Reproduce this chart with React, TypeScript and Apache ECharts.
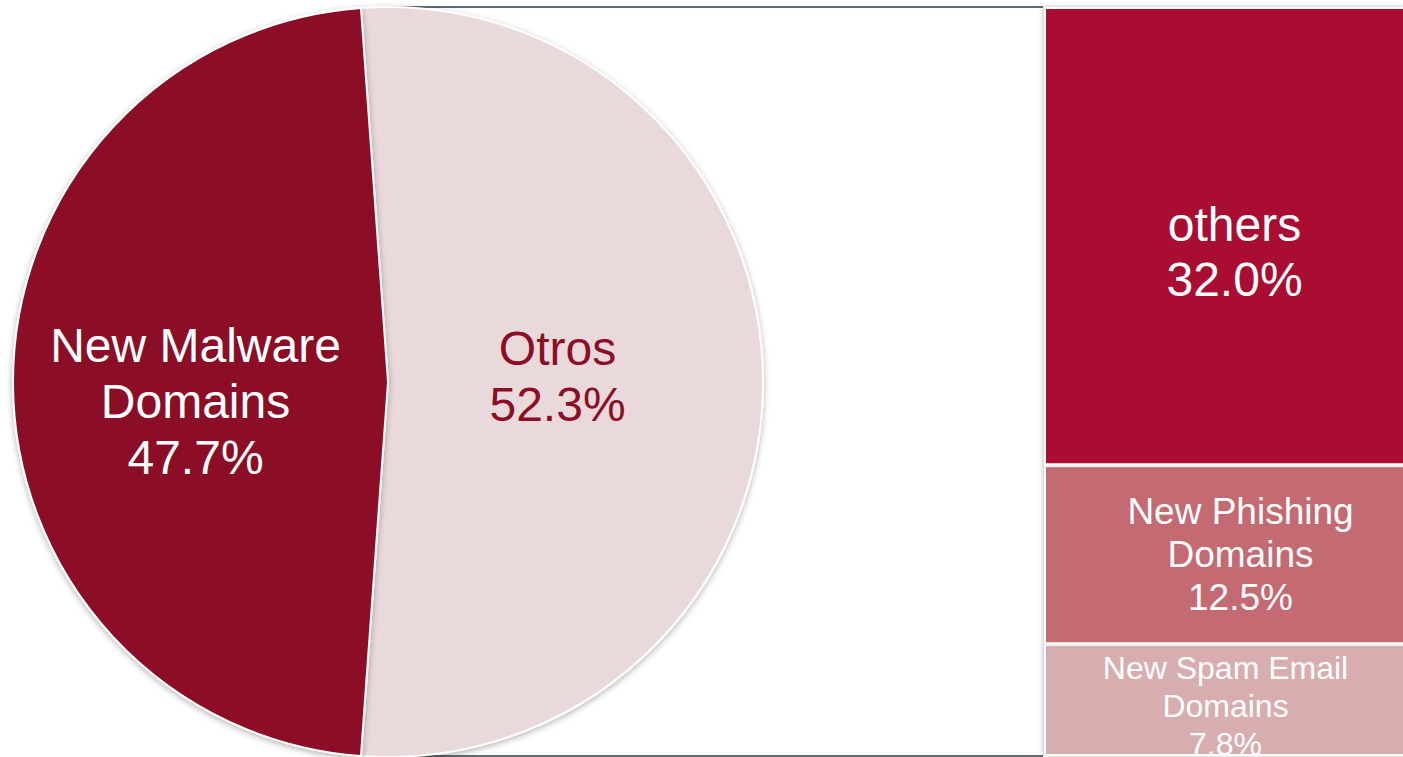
import React, { useEffect, useRef } from "react";
import * as echarts from "echarts";

// Pie data (main pie)
const pieNames = ["Otros", "New Malware\nDomains"];
const pieValues = [52.3, 47.7];
const pieColors = ["#EAD9DA", "#8B0E26"];
const pieLabelColors = ["#8B0E26", "#FFFFFF"];

// Bar data (breakdown of "Otros"), bottom to top
const barNames = ["New Spam Email\nDomains", "New Phishing\nDomains", "others"];
const barValues = [7.8, 12.5, 32.0];
const barColors = ["#D8ADB0", "#C36B72", "#AA1131"];

// layout constants
const W = 1403;
const H = 757;
const OVERHANG = 4; // bar runs past the right edge of the picture
const PIE_CX = 388;
const PIE_CY = 382;
const PIE_R = 375;
const BAR_LEFT = 1044;
const BAR_TOP = 7;
const BAR_BOTTOM = 756;
const pieLabelShift = [
  [-21, -6],
  [-2, 19],
];
const barLabelShift = [
  [0, 6],
  [15, 0],
  [9, 16],
];
const barFontSizes = [32, 37, 48];
const barLineHeights = [38, 43, 55];

const FONT = "'Liberation Sans', Arial, Helvetica, sans-serif";

export default function App() {
  const ref = useRef<HTMLDivElement>(null);

  useEffect(() => {
    if (!ref.current) return;
    const chart = echarts.init(ref.current, null, { renderer: "svg" });
    const pieTotal = pieValues.reduce((a, b) => a + b, 0);
    const otrosTotal = barValues.reduce((a, b) => a + b, 0);
    const startAngle = ((pieValues[0] / pieTotal) * 360) / 2;
    const lineColor = "#5E6A71";

    const barSeries = barValues.map((v, i) => ({
      type: "bar",
      name: barNames[i],
      stack: "otros",
      data: [v],
      barWidth: "100%",
      itemStyle: {
        color: barColors[i],
        borderColor: "#FFFFFF",
        borderWidth: 2,
        shadowBlur: 5,
        shadowColor: "rgba(0,0,0,0.25)",
        shadowOffsetX: -1,
      },
      label: {
        show: true,
        position: "inside",
        offset: barLabelShift[i],
        color: "#FFFFFF",
        fontFamily: FONT,
        fontSize: barFontSizes[i],
        lineHeight: barLineHeights[i],
        align: "center",
        formatter: () => `${barNames[i]}\n${v.toFixed(1)}%`,
      },
      z: 3,
    }));

    chart.setOption({
      animation: false,
      backgroundColor: "#FFFFFF",
      grid: {
        left: BAR_LEFT,
        right: 0,
        top: BAR_TOP,
        bottom: H - BAR_BOTTOM,
        containLabel: false,
      },
      xAxis: { type: "category", data: ["Otros"], show: false },
      yAxis: { type: "value", min: 0, max: otrosTotal, show: false },
      graphic: [
        {
          type: "line",
          shape: { x1: PIE_CX, y1: BAR_TOP, x2: BAR_LEFT - 1, y2: BAR_TOP },
          style: { stroke: lineColor, lineWidth: 2 },
          z: 0,
        },
        {
          type: "line",
          shape: { x1: PIE_CX, y1: BAR_BOTTOM, x2: BAR_LEFT - 1, y2: BAR_BOTTOM },
          style: { stroke: lineColor, lineWidth: 2 },
          z: 0,
        },
      ],
      series: [
        {
          type: "pie",
          center: [PIE_CX, PIE_CY],
          radius: PIE_R,
          startAngle,
          clockwise: true,
          silent: true,
          z: 4,
          itemStyle: {
            borderColor: "#FFFFFF",
            borderWidth: 2,
            shadowBlur: 6,
            shadowColor: "rgba(0,0,0,0.3)",
            shadowOffsetY: 2,
          },
          label: {
            show: true,
            position: "inside",
            fontFamily: FONT,
            fontSize: 48,
            lineHeight: 56,
            align: "center",
          },
          labelLine: { show: false },
          labelLayout: (p: any) => ({
            dx: pieLabelShift[p.dataIndex][0],
            dy: pieLabelShift[p.dataIndex][1],
          }),
          data: pieValues.map((v, i) => ({
            name: pieNames[i],
            value: v,
            itemStyle: { color: pieColors[i] },
            label: {
              color: pieLabelColors[i],
              formatter: `${pieNames[i]}\n${v.toFixed(1)}%`,
            },
          })),
        },
        ...barSeries,
      ],
    });
    return () => chart.dispose();
  }, []);

  return (
    <div style={{ position: "fixed", left: 0, top: 0, width: W, height: H, overflow: "hidden" }}>
      <div ref={ref} style={{ width: W + OVERHANG, height: H }} />
    </div>
  );
}
